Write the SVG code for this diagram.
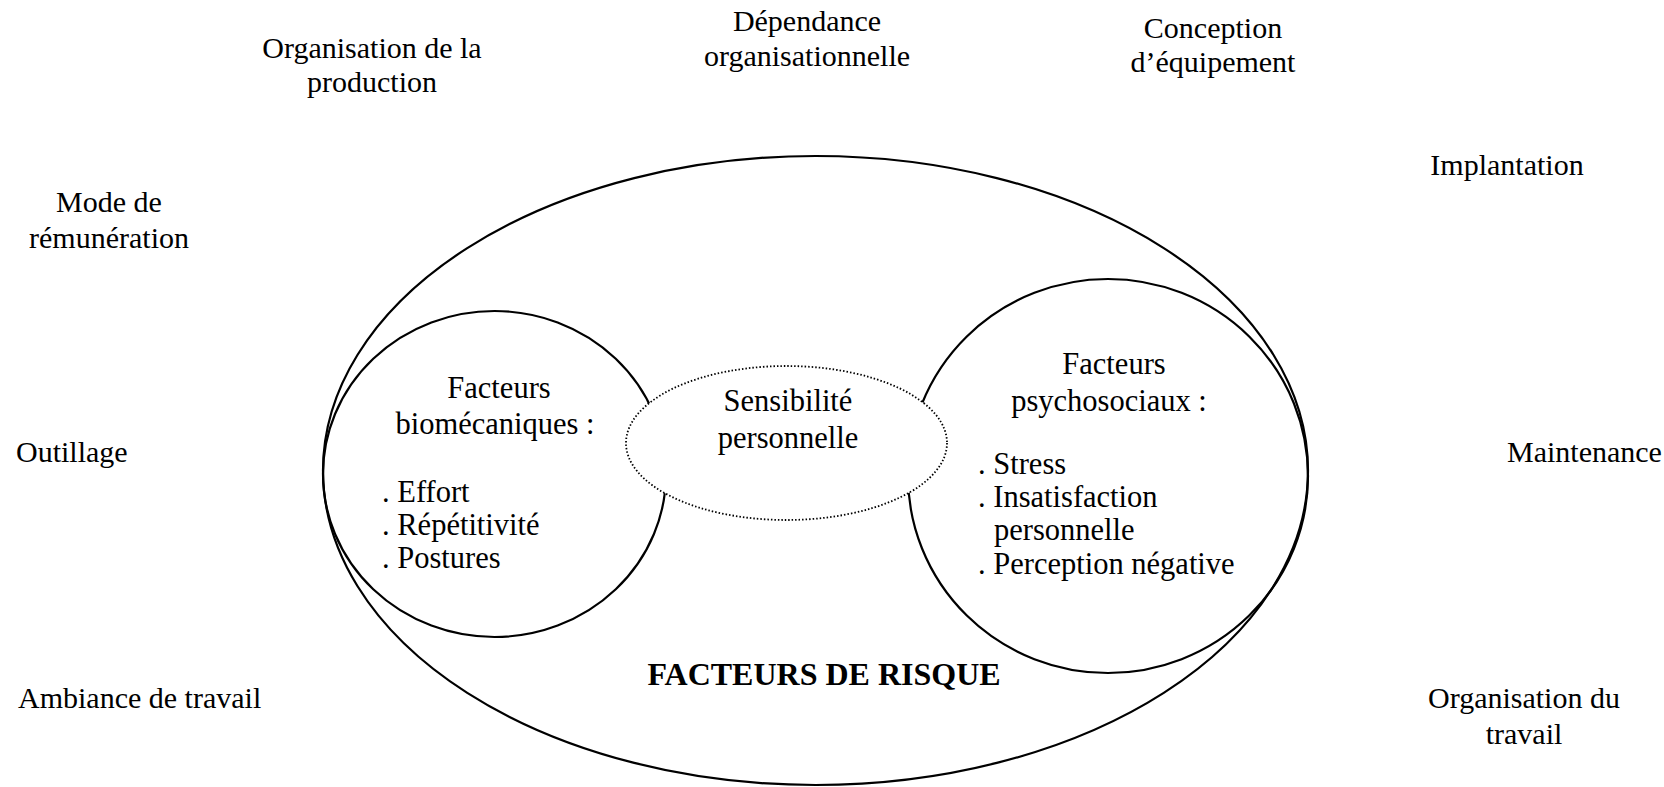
<svg xmlns="http://www.w3.org/2000/svg" width="1664" height="787" viewBox="0 0 1664 787">
<style>
.t{font-family:"Liberation Serif","Times New Roman",serif;font-size:30px;fill:#000}
.i{font-family:"Liberation Serif","Times New Roman",serif;font-size:30.5px;fill:#000}
.c{text-anchor:middle}
.b{font-family:"Liberation Serif","Times New Roman",serif;font-size:32px;font-weight:bold;fill:#000;text-anchor:middle}
.ln{fill:none;stroke:#000;stroke-width:2.2}
.dot{fill:#fff;stroke:#000;stroke-width:1.8;stroke-dasharray:1.5 2}
</style>
<rect width="1664" height="787" fill="#fff"/>
<g id="outer-labels">
<g id="org-production"><text class="t c" x="372" y="58">Organisation de la</text><text class="t c" x="372" y="92">production</text></g>
<g id="dependance"><text class="t c" x="807" y="31">Dépendance</text><text class="t c" x="807" y="66">organisationnelle</text></g>
<g id="conception"><text class="t c" x="1213" y="38">Conception</text><text class="t c" x="1213" y="72">d’équipement</text></g>
<g id="implantation"><text class="t c" x="1507" y="175">Implantation</text></g>
<g id="mode-remuneration"><text class="t c" x="109" y="212">Mode de</text><text class="t c" x="109" y="248">rémunération</text></g>
<g id="outillage"><text class="t" x="16" y="462">Outillage</text></g>
<g id="maintenance"><text class="t" x="1507" y="462">Maintenance</text></g>
<g id="ambiance"><text class="t" x="18" y="708">Ambiance de travail</text></g>
<g id="org-travail"><text class="t c" x="1524" y="708">Organisation du</text><text class="t c" x="1524" y="744">travail</text></g>
</g>
<g id="facteurs-risque">
<ellipse class="ln" cx="815.5" cy="470.5" rx="492.5" ry="314.5"/>
<text class="b" x="824" y="685">FACTEURS DE RISQUE</text>
</g>
<g id="biomecaniques">
<ellipse class="ln" cx="494.5" cy="474" rx="171.5" ry="163"/>
<text class="i c" x="499" y="398">Facteurs</text>
<text class="i c" x="495" y="434">biomécaniques :</text>
<text class="i" x="382" y="502">. Effort</text>
<text class="i" x="382" y="535">. Répétitivité</text>
<text class="i" x="382" y="568">. Postures</text>
</g>
<g id="psychosociaux">
<ellipse class="ln" cx="1108" cy="476" rx="200" ry="197"/>
<text class="i c" x="1114" y="374">Facteurs</text>
<text class="i c" x="1109" y="411">psychosociaux :</text>
<text class="i" x="978" y="474">. Stress</text>
<text class="i" x="978" y="507">. Insatisfaction</text>
<text class="i" x="994" y="540">personnelle</text>
<text class="i" x="978" y="574">. Perception négative</text>
</g>
<g id="sensibilite">
<ellipse class="dot" cx="786.5" cy="443" rx="160.5" ry="77"/>
<text class="i c" x="788" y="411">Sensibilité</text>
<text class="i c" x="788" y="448">personnelle</text>
</g>
<g id="connectors"></g>
</svg>
